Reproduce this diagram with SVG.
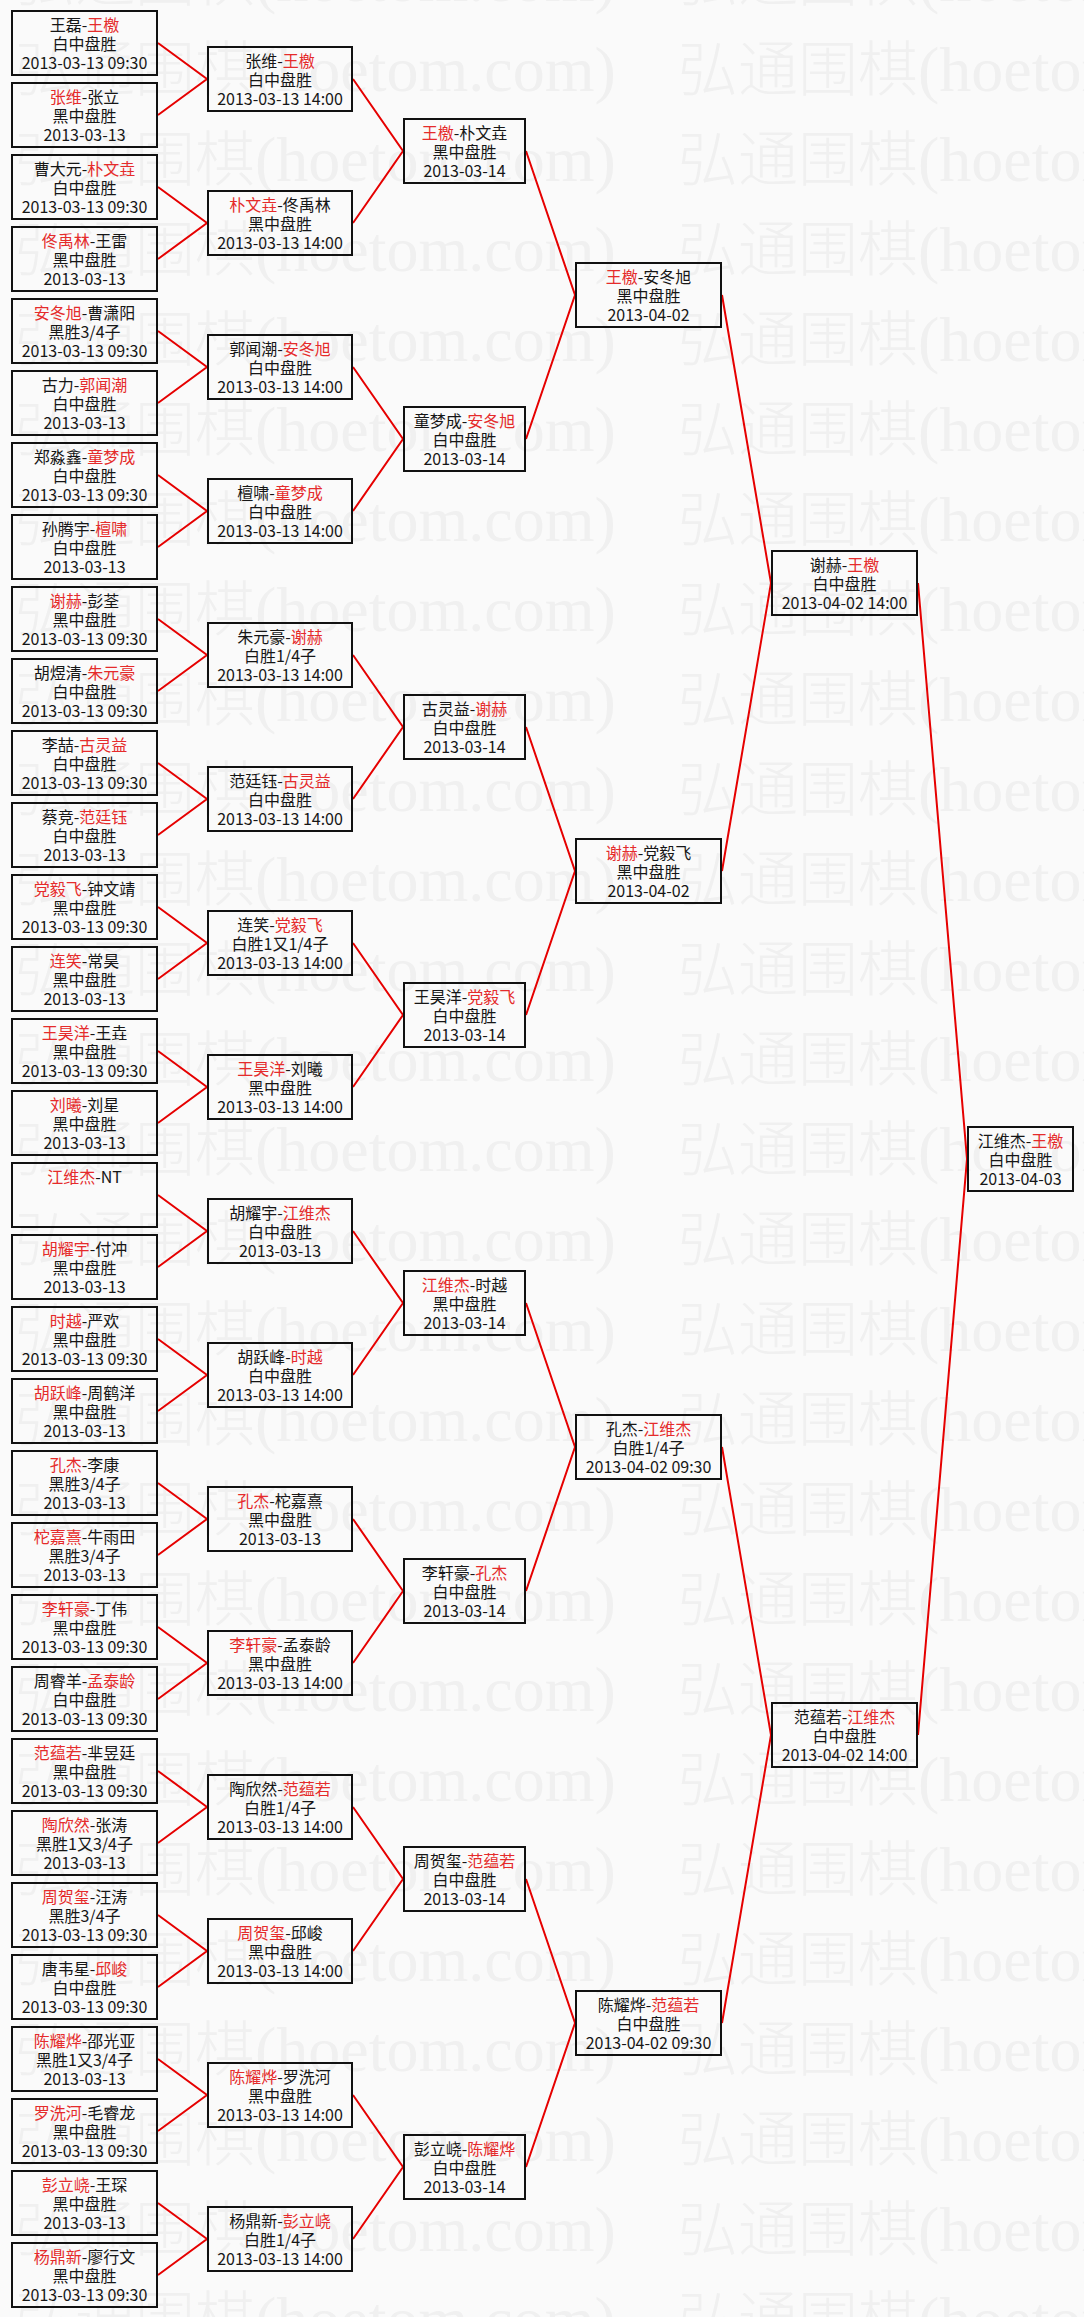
<svg xmlns="http://www.w3.org/2000/svg" xmlns:xlink="http://www.w3.org/1999/xlink" width="1084" height="2317" viewBox="0 0 1084 2317">
<style>
.bx{fill:none;stroke:#111;stroke-width:2}
.t{font-family:"Noto Sans CJK SC","Liberation Sans",sans-serif;font-size:16px;fill:#161616;text-anchor:middle}
.r{fill:#e52b2b}
.w{font-family:"Liberation Serif","Noto Sans CJK SC",serif;font-size:60px;font-weight:300;fill:#f0f0f0}
.wa{font-size:64px}
#connectors polyline{fill:none;stroke:#e60000;stroke-width:2}
</style>
<defs>
<pattern id="wm" patternUnits="userSpaceOnUse" x="15" y="20" width="663" height="90">
<text class="w" x="0" y="70.5">弘通围棋<tspan class="wa">(hoetom.com)</tspan></text>
</pattern>
<rect id="b1" class="bx" x="-72.5" y="-32" width="145" height="64"/>
<rect id="b2" class="bx" x="-72" y="-32" width="144" height="64"/>
<rect id="b3" class="bx" x="-60.5" y="-32" width="121" height="64"/>
<rect id="b4" class="bx" x="-72.5" y="-32" width="145" height="64"/>
<rect id="b6" class="bx" x="-52.5" y="-32" width="105" height="64"/>
</defs>
<rect x="0" y="0" width="1084" height="2317" fill="#fafafa"/>
<rect x="0" y="0" width="1084" height="2317" fill="url(#wm)"/>

<g id="connectors">
<polyline points="158,43 207,79 158,115"/>
<polyline points="158,187 207,223 158,259"/>
<polyline points="158,331 207,367 158,403"/>
<polyline points="158,475 207,511 158,547"/>
<polyline points="158,619 207,655 158,691"/>
<polyline points="158,763 207,799 158,835"/>
<polyline points="158,907 207,943 158,979"/>
<polyline points="158,1051 207,1087 158,1123"/>
<polyline points="158,1195 207,1231 158,1267"/>
<polyline points="158,1339 207,1375 158,1411"/>
<polyline points="158,1483 207,1519 158,1555"/>
<polyline points="158,1627 207,1663 158,1699"/>
<polyline points="158,1771 207,1807 158,1843"/>
<polyline points="158,1915 207,1951 158,1987"/>
<polyline points="158,2059 207,2095 158,2131"/>
<polyline points="158,2203 207,2239 158,2275"/>
<polyline points="353,79 403,151 353,223"/>
<polyline points="353,367 403,439 353,511"/>
<polyline points="353,655 403,727 353,799"/>
<polyline points="353,943 403,1015 353,1087"/>
<polyline points="353,1231 403,1303 353,1375"/>
<polyline points="353,1519 403,1591 353,1663"/>
<polyline points="353,1807 403,1879 353,1951"/>
<polyline points="353,2095 403,2167 353,2239"/>
<polyline points="526,151 575,295 526,439"/>
<polyline points="526,727 575,871 526,1015"/>
<polyline points="526,1303 575,1447 526,1591"/>
<polyline points="526,1879 575,2023 526,2167"/>
<polyline points="722,295 771,583 722,871"/>
<polyline points="722,1447 771,1735 722,2023"/>
<polyline points="918,583 967,1159 918,1735"/>
</g>

<g id="r1-01" transform="translate(84.5,43)"><use href="#b1"/><text class="t" y="-12.5">王磊-<tspan class="r">王檄</tspan></text><text class="t" y="6.5">白中盘胜</text><text class="t" y="25.5">2013-03-13 09:30</text></g>
<g id="r1-02" transform="translate(84.5,115)"><use href="#b1"/><text class="t" y="-12.5"><tspan class="r">张维</tspan>-张立</text><text class="t" y="6.5">黑中盘胜</text><text class="t" y="25.5">2013-03-13</text></g>
<g id="r1-03" transform="translate(84.5,187)"><use href="#b1"/><text class="t" y="-12.5">曹大元-<tspan class="r">朴文垚</tspan></text><text class="t" y="6.5">白中盘胜</text><text class="t" y="25.5">2013-03-13 09:30</text></g>
<g id="r1-04" transform="translate(84.5,259)"><use href="#b1"/><text class="t" y="-12.5"><tspan class="r">佟禹林</tspan>-王雷</text><text class="t" y="6.5">黑中盘胜</text><text class="t" y="25.5">2013-03-13</text></g>
<g id="r1-05" transform="translate(84.5,331)"><use href="#b1"/><text class="t" y="-12.5"><tspan class="r">安冬旭</tspan>-曹潇阳</text><text class="t" y="6.5">黑胜3/4子</text><text class="t" y="25.5">2013-03-13 09:30</text></g>
<g id="r1-06" transform="translate(84.5,403)"><use href="#b1"/><text class="t" y="-12.5">古力-<tspan class="r">郭闻潮</tspan></text><text class="t" y="6.5">白中盘胜</text><text class="t" y="25.5">2013-03-13</text></g>
<g id="r1-07" transform="translate(84.5,475)"><use href="#b1"/><text class="t" y="-12.5">郑淼鑫-<tspan class="r">童梦成</tspan></text><text class="t" y="6.5">白中盘胜</text><text class="t" y="25.5">2013-03-13 09:30</text></g>
<g id="r1-08" transform="translate(84.5,547)"><use href="#b1"/><text class="t" y="-12.5">孙腾宇-<tspan class="r">檀啸</tspan></text><text class="t" y="6.5">白中盘胜</text><text class="t" y="25.5">2013-03-13</text></g>
<g id="r1-09" transform="translate(84.5,619)"><use href="#b1"/><text class="t" y="-12.5"><tspan class="r">谢赫</tspan>-彭荃</text><text class="t" y="6.5">黑中盘胜</text><text class="t" y="25.5">2013-03-13 09:30</text></g>
<g id="r1-10" transform="translate(84.5,691)"><use href="#b1"/><text class="t" y="-12.5">胡煜清-<tspan class="r">朱元豪</tspan></text><text class="t" y="6.5">白中盘胜</text><text class="t" y="25.5">2013-03-13 09:30</text></g>
<g id="r1-11" transform="translate(84.5,763)"><use href="#b1"/><text class="t" y="-12.5">李喆-<tspan class="r">古灵益</tspan></text><text class="t" y="6.5">白中盘胜</text><text class="t" y="25.5">2013-03-13 09:30</text></g>
<g id="r1-12" transform="translate(84.5,835)"><use href="#b1"/><text class="t" y="-12.5">蔡竞-<tspan class="r">范廷钰</tspan></text><text class="t" y="6.5">白中盘胜</text><text class="t" y="25.5">2013-03-13</text></g>
<g id="r1-13" transform="translate(84.5,907)"><use href="#b1"/><text class="t" y="-12.5"><tspan class="r">党毅飞</tspan>-钟文靖</text><text class="t" y="6.5">黑中盘胜</text><text class="t" y="25.5">2013-03-13 09:30</text></g>
<g id="r1-14" transform="translate(84.5,979)"><use href="#b1"/><text class="t" y="-12.5"><tspan class="r">连笑</tspan>-常昊</text><text class="t" y="6.5">黑中盘胜</text><text class="t" y="25.5">2013-03-13</text></g>
<g id="r1-15" transform="translate(84.5,1051)"><use href="#b1"/><text class="t" y="-12.5"><tspan class="r">王昊洋</tspan>-王垚</text><text class="t" y="6.5">黑中盘胜</text><text class="t" y="25.5">2013-03-13 09:30</text></g>
<g id="r1-16" transform="translate(84.5,1123)"><use href="#b1"/><text class="t" y="-12.5"><tspan class="r">刘曦</tspan>-刘星</text><text class="t" y="6.5">黑中盘胜</text><text class="t" y="25.5">2013-03-13</text></g>
<g id="r1-17" transform="translate(84.5,1195)"><use href="#b1"/><text class="t" y="-12.5"><tspan class="r">江维杰</tspan>-NT</text></g>
<g id="r1-18" transform="translate(84.5,1267)"><use href="#b1"/><text class="t" y="-12.5"><tspan class="r">胡耀宇</tspan>-付冲</text><text class="t" y="6.5">黑中盘胜</text><text class="t" y="25.5">2013-03-13</text></g>
<g id="r1-19" transform="translate(84.5,1339)"><use href="#b1"/><text class="t" y="-12.5"><tspan class="r">时越</tspan>-严欢</text><text class="t" y="6.5">黑中盘胜</text><text class="t" y="25.5">2013-03-13 09:30</text></g>
<g id="r1-20" transform="translate(84.5,1411)"><use href="#b1"/><text class="t" y="-12.5"><tspan class="r">胡跃峰</tspan>-周鹤洋</text><text class="t" y="6.5">黑中盘胜</text><text class="t" y="25.5">2013-03-13</text></g>
<g id="r1-21" transform="translate(84.5,1483)"><use href="#b1"/><text class="t" y="-12.5"><tspan class="r">孔杰</tspan>-李康</text><text class="t" y="6.5">黑胜3/4子</text><text class="t" y="25.5">2013-03-13</text></g>
<g id="r1-22" transform="translate(84.5,1555)"><use href="#b1"/><text class="t" y="-12.5"><tspan class="r">柁嘉熹</tspan>-牛雨田</text><text class="t" y="6.5">黑胜3/4子</text><text class="t" y="25.5">2013-03-13</text></g>
<g id="r1-23" transform="translate(84.5,1627)"><use href="#b1"/><text class="t" y="-12.5"><tspan class="r">李轩豪</tspan>-丁伟</text><text class="t" y="6.5">黑中盘胜</text><text class="t" y="25.5">2013-03-13 09:30</text></g>
<g id="r1-24" transform="translate(84.5,1699)"><use href="#b1"/><text class="t" y="-12.5">周睿羊-<tspan class="r">孟泰龄</tspan></text><text class="t" y="6.5">白中盘胜</text><text class="t" y="25.5">2013-03-13 09:30</text></g>
<g id="r1-25" transform="translate(84.5,1771)"><use href="#b1"/><text class="t" y="-12.5"><tspan class="r">范蕴若</tspan>-芈昱廷</text><text class="t" y="6.5">黑中盘胜</text><text class="t" y="25.5">2013-03-13 09:30</text></g>
<g id="r1-26" transform="translate(84.5,1843)"><use href="#b1"/><text class="t" y="-12.5"><tspan class="r">陶欣然</tspan>-张涛</text><text class="t" y="6.5">黑胜1又3/4子</text><text class="t" y="25.5">2013-03-13</text></g>
<g id="r1-27" transform="translate(84.5,1915)"><use href="#b1"/><text class="t" y="-12.5"><tspan class="r">周贺玺</tspan>-汪涛</text><text class="t" y="6.5">黑胜3/4子</text><text class="t" y="25.5">2013-03-13 09:30</text></g>
<g id="r1-28" transform="translate(84.5,1987)"><use href="#b1"/><text class="t" y="-12.5">唐韦星-<tspan class="r">邱峻</tspan></text><text class="t" y="6.5">白中盘胜</text><text class="t" y="25.5">2013-03-13 09:30</text></g>
<g id="r1-29" transform="translate(84.5,2059)"><use href="#b1"/><text class="t" y="-12.5"><tspan class="r">陈耀烨</tspan>-邵光亚</text><text class="t" y="6.5">黑胜1又3/4子</text><text class="t" y="25.5">2013-03-13</text></g>
<g id="r1-30" transform="translate(84.5,2131)"><use href="#b1"/><text class="t" y="-12.5"><tspan class="r">罗洗河</tspan>-毛睿龙</text><text class="t" y="6.5">黑中盘胜</text><text class="t" y="25.5">2013-03-13 09:30</text></g>
<g id="r1-31" transform="translate(84.5,2203)"><use href="#b1"/><text class="t" y="-12.5"><tspan class="r">彭立峣</tspan>-王琛</text><text class="t" y="6.5">黑中盘胜</text><text class="t" y="25.5">2013-03-13</text></g>
<g id="r1-32" transform="translate(84.5,2275)"><use href="#b1"/><text class="t" y="-12.5"><tspan class="r">杨鼎新</tspan>-廖行文</text><text class="t" y="6.5">黑中盘胜</text><text class="t" y="25.5">2013-03-13 09:30</text></g>

<g id="r2-01" transform="translate(280,79)"><use href="#b2"/><text class="t" y="-12.5">张维-<tspan class="r">王檄</tspan></text><text class="t" y="6.5">白中盘胜</text><text class="t" y="25.5">2013-03-13 14:00</text></g>
<g id="r2-02" transform="translate(280,223)"><use href="#b2"/><text class="t" y="-12.5"><tspan class="r">朴文垚</tspan>-佟禹林</text><text class="t" y="6.5">黑中盘胜</text><text class="t" y="25.5">2013-03-13 14:00</text></g>
<g id="r2-03" transform="translate(280,367)"><use href="#b2"/><text class="t" y="-12.5">郭闻潮-<tspan class="r">安冬旭</tspan></text><text class="t" y="6.5">白中盘胜</text><text class="t" y="25.5">2013-03-13 14:00</text></g>
<g id="r2-04" transform="translate(280,511)"><use href="#b2"/><text class="t" y="-12.5">檀啸-<tspan class="r">童梦成</tspan></text><text class="t" y="6.5">白中盘胜</text><text class="t" y="25.5">2013-03-13 14:00</text></g>
<g id="r2-05" transform="translate(280,655)"><use href="#b2"/><text class="t" y="-12.5">朱元豪-<tspan class="r">谢赫</tspan></text><text class="t" y="6.5">白胜1/4子</text><text class="t" y="25.5">2013-03-13 14:00</text></g>
<g id="r2-06" transform="translate(280,799)"><use href="#b2"/><text class="t" y="-12.5">范廷钰-<tspan class="r">古灵益</tspan></text><text class="t" y="6.5">白中盘胜</text><text class="t" y="25.5">2013-03-13 14:00</text></g>
<g id="r2-07" transform="translate(280,943)"><use href="#b2"/><text class="t" y="-12.5">连笑-<tspan class="r">党毅飞</tspan></text><text class="t" y="6.5">白胜1又1/4子</text><text class="t" y="25.5">2013-03-13 14:00</text></g>
<g id="r2-08" transform="translate(280,1087)"><use href="#b2"/><text class="t" y="-12.5"><tspan class="r">王昊洋</tspan>-刘曦</text><text class="t" y="6.5">黑中盘胜</text><text class="t" y="25.5">2013-03-13 14:00</text></g>
<g id="r2-09" transform="translate(280,1231)"><use href="#b2"/><text class="t" y="-12.5">胡耀宇-<tspan class="r">江维杰</tspan></text><text class="t" y="6.5">白中盘胜</text><text class="t" y="25.5">2013-03-13</text></g>
<g id="r2-10" transform="translate(280,1375)"><use href="#b2"/><text class="t" y="-12.5">胡跃峰-<tspan class="r">时越</tspan></text><text class="t" y="6.5">白中盘胜</text><text class="t" y="25.5">2013-03-13 14:00</text></g>
<g id="r2-11" transform="translate(280,1519)"><use href="#b2"/><text class="t" y="-12.5"><tspan class="r">孔杰</tspan>-柁嘉熹</text><text class="t" y="6.5">黑中盘胜</text><text class="t" y="25.5">2013-03-13</text></g>
<g id="r2-12" transform="translate(280,1663)"><use href="#b2"/><text class="t" y="-12.5"><tspan class="r">李轩豪</tspan>-孟泰龄</text><text class="t" y="6.5">黑中盘胜</text><text class="t" y="25.5">2013-03-13 14:00</text></g>
<g id="r2-13" transform="translate(280,1807)"><use href="#b2"/><text class="t" y="-12.5">陶欣然-<tspan class="r">范蕴若</tspan></text><text class="t" y="6.5">白胜1/4子</text><text class="t" y="25.5">2013-03-13 14:00</text></g>
<g id="r2-14" transform="translate(280,1951)"><use href="#b2"/><text class="t" y="-12.5"><tspan class="r">周贺玺</tspan>-邱峻</text><text class="t" y="6.5">黑中盘胜</text><text class="t" y="25.5">2013-03-13 14:00</text></g>
<g id="r2-15" transform="translate(280,2095)"><use href="#b2"/><text class="t" y="-12.5"><tspan class="r">陈耀烨</tspan>-罗洗河</text><text class="t" y="6.5">黑中盘胜</text><text class="t" y="25.5">2013-03-13 14:00</text></g>
<g id="r2-16" transform="translate(280,2239)"><use href="#b2"/><text class="t" y="-12.5">杨鼎新-<tspan class="r">彭立峣</tspan></text><text class="t" y="6.5">白胜1/4子</text><text class="t" y="25.5">2013-03-13 14:00</text></g>

<g id="r3-01" transform="translate(464.5,151)"><use href="#b3"/><text class="t" y="-12.5"><tspan class="r">王檄</tspan>-朴文垚</text><text class="t" y="6.5">黑中盘胜</text><text class="t" y="25.5">2013-03-14</text></g>
<g id="r3-02" transform="translate(464.5,439)"><use href="#b3"/><text class="t" y="-12.5">童梦成-<tspan class="r">安冬旭</tspan></text><text class="t" y="6.5">白中盘胜</text><text class="t" y="25.5">2013-03-14</text></g>
<g id="r3-03" transform="translate(464.5,727)"><use href="#b3"/><text class="t" y="-12.5">古灵益-<tspan class="r">谢赫</tspan></text><text class="t" y="6.5">白中盘胜</text><text class="t" y="25.5">2013-03-14</text></g>
<g id="r3-04" transform="translate(464.5,1015)"><use href="#b3"/><text class="t" y="-12.5">王昊洋-<tspan class="r">党毅飞</tspan></text><text class="t" y="6.5">白中盘胜</text><text class="t" y="25.5">2013-03-14</text></g>
<g id="r3-05" transform="translate(464.5,1303)"><use href="#b3"/><text class="t" y="-12.5"><tspan class="r">江维杰</tspan>-时越</text><text class="t" y="6.5">黑中盘胜</text><text class="t" y="25.5">2013-03-14</text></g>
<g id="r3-06" transform="translate(464.5,1591)"><use href="#b3"/><text class="t" y="-12.5">李轩豪-<tspan class="r">孔杰</tspan></text><text class="t" y="6.5">白中盘胜</text><text class="t" y="25.5">2013-03-14</text></g>
<g id="r3-07" transform="translate(464.5,1879)"><use href="#b3"/><text class="t" y="-12.5">周贺玺-<tspan class="r">范蕴若</tspan></text><text class="t" y="6.5">白中盘胜</text><text class="t" y="25.5">2013-03-14</text></g>
<g id="r3-08" transform="translate(464.5,2167)"><use href="#b3"/><text class="t" y="-12.5">彭立峣-<tspan class="r">陈耀烨</tspan></text><text class="t" y="6.5">白中盘胜</text><text class="t" y="25.5">2013-03-14</text></g>

<g id="r4-01" transform="translate(648.5,295)"><use href="#b4"/><text class="t" y="-12.5"><tspan class="r">王檄</tspan>-安冬旭</text><text class="t" y="6.5">黑中盘胜</text><text class="t" y="25.5">2013-04-02</text></g>
<g id="r4-02" transform="translate(648.5,871)"><use href="#b4"/><text class="t" y="-12.5"><tspan class="r">谢赫</tspan>-党毅飞</text><text class="t" y="6.5">黑中盘胜</text><text class="t" y="25.5">2013-04-02</text></g>
<g id="r4-03" transform="translate(648.5,1447)"><use href="#b4"/><text class="t" y="-12.5">孔杰-<tspan class="r">江维杰</tspan></text><text class="t" y="6.5">白胜1/4子</text><text class="t" y="25.5">2013-04-02 09:30</text></g>
<g id="r4-04" transform="translate(648.5,2023)"><use href="#b4"/><text class="t" y="-12.5">陈耀烨-<tspan class="r">范蕴若</tspan></text><text class="t" y="6.5">白中盘胜</text><text class="t" y="25.5">2013-04-02 09:30</text></g>

<g id="r5-01" transform="translate(844.5,583)"><use href="#b4"/><text class="t" y="-12.5">谢赫-<tspan class="r">王檄</tspan></text><text class="t" y="6.5">白中盘胜</text><text class="t" y="25.5">2013-04-02 14:00</text></g>
<g id="r5-02" transform="translate(844.5,1735)"><use href="#b4"/><text class="t" y="-12.5">范蕴若-<tspan class="r">江维杰</tspan></text><text class="t" y="6.5">白中盘胜</text><text class="t" y="25.5">2013-04-02 14:00</text></g>

<g id="r6-01" transform="translate(1020.5,1159)"><use href="#b6"/><text class="t" y="-12.5">江维杰-<tspan class="r">王檄</tspan></text><text class="t" y="6.5">白中盘胜</text><text class="t" y="25.5">2013-04-03</text></g>
</svg>
